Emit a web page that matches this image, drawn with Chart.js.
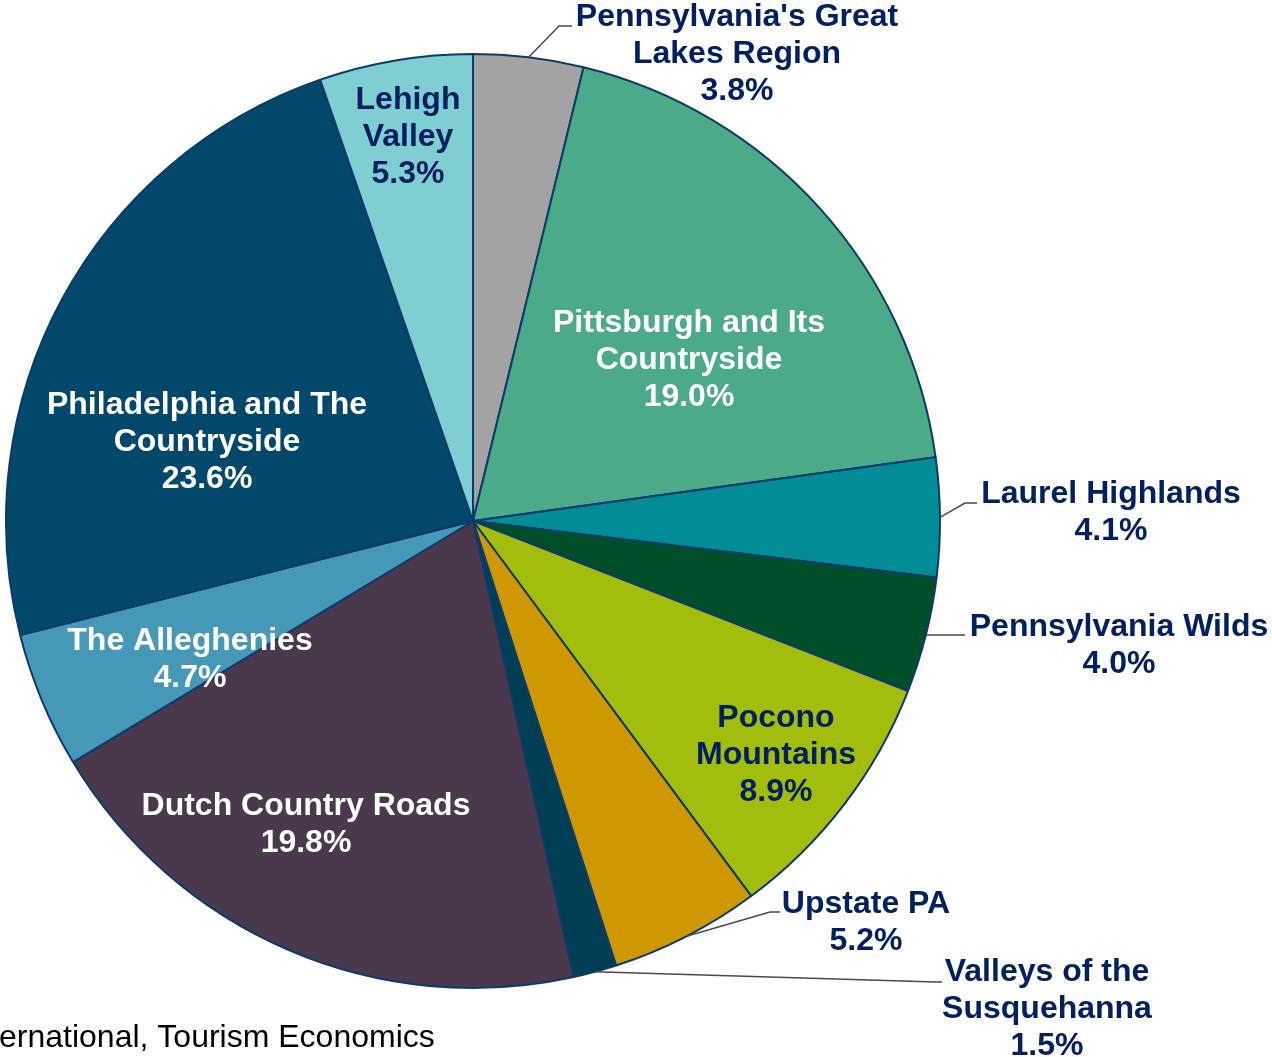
<!DOCTYPE html>
<html>
<head>
<meta charset="utf-8">
<script src="https://cdn.jsdelivr.net/npm/chart.js@4"></script>
<style>
  body { margin: 0; background: #fff; }
  canvas { display: block; }
</style>
</head>
<body>
<canvas id="chart" width="1272" height="1057"></canvas>
<script>
// regiones (en sentido horario desde arriba)
var regiones = [
    "Pennsylvania's Great\nLakes Region",
    'Pittsburgh and Its\nCountryside',
    'Laurel Highlands',
    'Pennsylvania Wilds',
    'Pocono\nMountains',
    'Upstate PA',
    'Valleys of the\nSusquehanna',
    'Dutch Country Roads',
    'The Alleghenies',
    'Philadelphia and The\nCountryside',
    'Lehigh\nValley'
];
var porcentajes = [3.8, 19.0, 4.1, 4.0, 8.9, 5.2, 1.5, 19.8, 4.7, 23.6, 5.3];
var fuente = 'ernational, Tourism Economics';

var colores = ['#A3A3A3', '#4BAA88', '#018C96', '#004F29', '#A3BD0C', '#D09800',
    '#003F53', '#4A384C', '#4599B7', '#01486A', '#7FCED2'];
var navy = '#002060';
var colorTexto = [navy, '#fff', navy, navy, navy, navy, navy, '#fff', '#fff', '#fff', navy];

// posicion de cada etiqueta (centro de la primera linea) y guia (codo) si esta afuera
var etiquetas = [
    { x: 737, y: 17, guia: [[559, 26], [572, 26]] },
    { x: 689, y: 323 },
    { x: 1111, y: 494, guia: [[965, 503], [977, 503]] },
    { x: 1119, y: 627, guia: [[965, 635]] },
    { x: 776, y: 718 },
    { x: 866, y: 904, guia: [[770, 912], [780, 912]] },
    { x: 1047, y: 972, guia: [[936, 982], [942, 982]] },
    { x: 306, y: 806 },
    { x: 190, y: 641 },
    { x: 207, y: 405 },
    { x: 408, y: 100 }
];

var etiquetasPlugin = {
    id: 'etiquetas',
    afterDatasetsDraw(chart) {
        var ctx = chart.ctx;
        var arcs = chart.getDatasetMeta(0).data;
        ctx.save();
        arcs.forEach((arc, i) => {
            var e = etiquetas[i];
            if (e.guia) {
                var p = arc.getProps(['x', 'y', 'startAngle', 'endAngle', 'outerRadius'], true);
                var mid = (p.startAngle + p.endAngle) / 2;
                ctx.beginPath();
                ctx.moveTo(p.x + Math.cos(mid) * p.outerRadius, p.y + Math.sin(mid) * p.outerRadius);
                e.guia.forEach(pt => ctx.lineTo(pt[0], pt[1]));
                ctx.strokeStyle = '#4a4a4a';
                ctx.lineWidth = 1.5;
                ctx.stroke();
            }
            var lineas = regiones[i].split('\n').concat([porcentajes[i].toFixed(1) + '%']);
            ctx.font = 'bold 32px "Liberation Sans", Arial, sans-serif';
            ctx.fillStyle = colorTexto[i];
            ctx.textAlign = 'center';
            ctx.textBaseline = 'middle';
            lineas.forEach((t, j) => ctx.fillText(t, e.x, e.y + j * 37));
        });
        ctx.font = '32px "Liberation Sans", Arial, sans-serif';
        ctx.fillStyle = '#000';
        ctx.textAlign = 'left';
        ctx.textBaseline = 'middle';
        ctx.fillText(fuente, -1, 1038);
        ctx.restore();
    }
};

var chart = new Chart(document.getElementById('chart'), {
    type: 'pie',
    data: {
        labels: regiones,
        datasets: [{
            data: porcentajes,
            backgroundColor: colores,
            borderColor: '#0D3A6C',
            borderWidth: 2
        }]
    },
    options: {
        responsive: false,
        animation: false,
        layout: { padding: { left: 5, top: 53, right: 331, bottom: 68 } },
        plugins: {
            legend: { display: false },
            tooltip: { enabled: false }
        }
    },
    plugins: [etiquetasPlugin]
});
</script>
</body>
</html>
